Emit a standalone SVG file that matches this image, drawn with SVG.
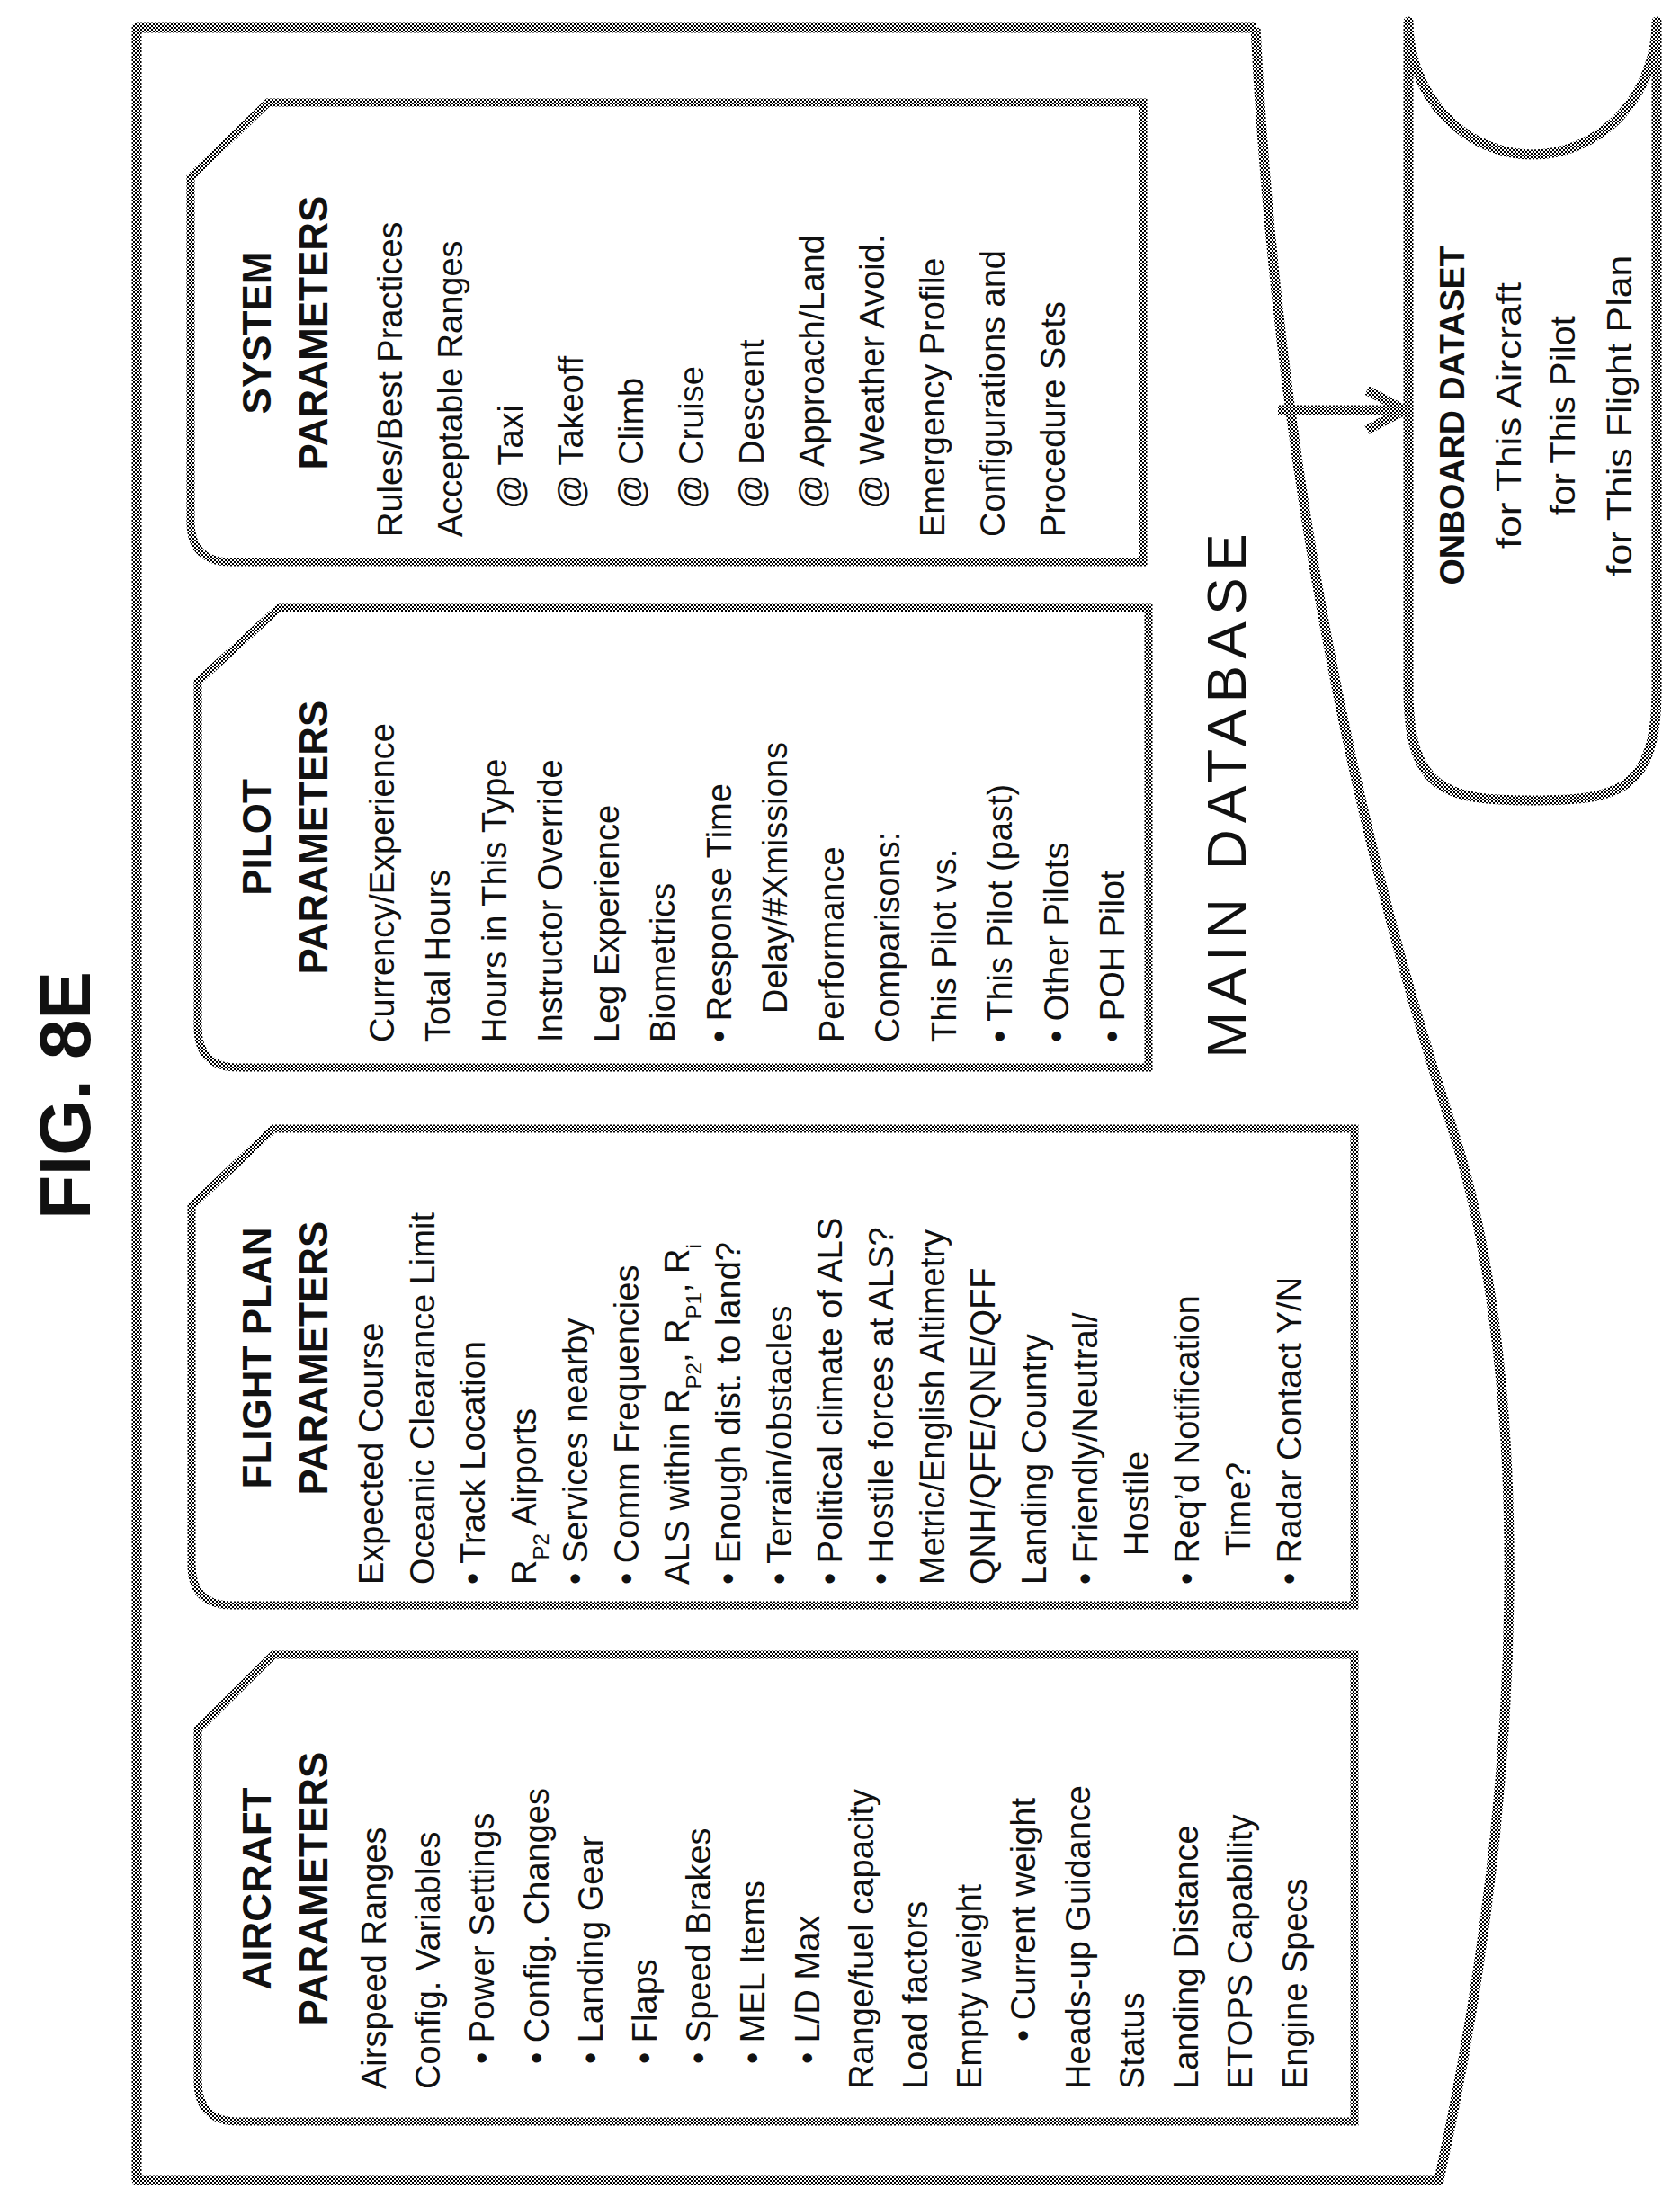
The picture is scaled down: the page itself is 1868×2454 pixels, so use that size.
<svg xmlns="http://www.w3.org/2000/svg" width="1868" height="2454" viewBox="0 0 1868 2454">
<defs>
<pattern id="hp" width="4" height="4" patternUnits="userSpaceOnUse"><rect width="4" height="4" fill="#fff"/><rect width="2" height="2" fill="#000"/><rect x="2" y="2" width="2" height="2" fill="#000"/></pattern>
</defs>
<style>
.h{fill:none;stroke:url(#hp);stroke-width:11;stroke-linejoin:round}
.hb{fill:none;stroke:url(#hp);stroke-width:9}
text{font-family:"Liberation Sans",Arial,sans-serif;fill:#111}
.l{font-size:38px}
.t{font-size:44px;font-weight:bold;text-anchor:middle}
.o{font-size:38px;text-anchor:middle}
</style>
<rect width="1868" height="2454" fill="#fff"/>
<text x="100" y="1218" transform="rotate(-90 100 1218)" style="font-size:80px;font-weight:bold;text-anchor:middle">FIG. 8E</text>
<g id="main-database">
<path class="h" d="M1396 31 L152 31 L152 2424 L1600 2424 C1705 1950 1700 1500 1610 1240 C1500 900 1420 500 1396 31"/>
<text x="1385" y="885" transform="rotate(-90 1385 885)" textLength="583" lengthAdjust="spacing" style="font-size:62px;text-anchor:middle">MAIN DATABASE</text>
</g>
<g id="system">
<path class="hb" d="M298 114 L1271 114 L1271 625 L257 625 Q212 625 212 580 L212 197 Z"/>
<g class="t"><text x="301" y="370" transform="rotate(-90 301 370)">SYSTEM</text><text x="364" y="370" transform="rotate(-90 364 370)">PARAMETERS</text></g>
<g class="l">
<text x="447" y="597" transform="rotate(-90 447 597)">Rules/Best Practices</text>
<text x="514" y="597" transform="rotate(-90 514 597)">Acceptable Ranges</text>
<text x="581" y="566" transform="rotate(-90 581 566)">@ Taxi</text>
<text x="648" y="566" transform="rotate(-90 648 566)">@ Takeoff</text>
<text x="715" y="566" transform="rotate(-90 715 566)">@ Climb</text>
<text x="782" y="566" transform="rotate(-90 782 566)">@ Cruise</text>
<text x="849" y="566" transform="rotate(-90 849 566)">@ Descent</text>
<text x="916" y="566" transform="rotate(-90 916 566)">@ Approach/Land</text>
<text x="983" y="566" transform="rotate(-90 983 566)">@ Weather Avoid.</text>
<text x="1050" y="597" transform="rotate(-90 1050 597)">Emergency Profile</text>
<text x="1117" y="597" transform="rotate(-90 1117 597)">Configurations and</text>
<text x="1184" y="597" transform="rotate(-90 1184 597)">Procedure Sets</text>
</g>
</g>
<g id="pilot">
<path class="hb" d="M310 676 L1277 676 L1277 1187 L265 1187 Q220 1187 220 1142 L220 758 Z"/>
<g class="t"><text x="301" y="931" transform="rotate(-90 301 931)">PILOT</text><text x="364" y="931" transform="rotate(-90 364 931)">PARAMETERS</text></g>
<g class="l">
<text x="438" y="1159" transform="rotate(-90 438 1159)">Currency/Experience</text>
<text x="500" y="1159" transform="rotate(-90 500 1159)">Total Hours</text>
<text x="563" y="1159" transform="rotate(-90 563 1159)">Hours in This Type</text>
<text x="625" y="1159" transform="rotate(-90 625 1159)">Instructor Override</text>
<text x="688" y="1159" transform="rotate(-90 688 1159)">Leg Experience</text>
<text x="750" y="1159" transform="rotate(-90 750 1159)">Biometrics</text>
<text x="813" y="1159" transform="rotate(-90 813 1159)">• Response Time</text>
<text x="875" y="1127" transform="rotate(-90 875 1127)">Delay/#Xmissions</text>
<text x="938" y="1159" transform="rotate(-90 938 1159)">Performance</text>
<text x="1000" y="1159" transform="rotate(-90 1000 1159)">Comparisons:</text>
<text x="1063" y="1159" transform="rotate(-90 1063 1159)">This Pilot vs.</text>
<text x="1125" y="1159" transform="rotate(-90 1125 1159)">• This Pilot (past)</text>
<text x="1188" y="1159" transform="rotate(-90 1188 1159)">• Other Pilots</text>
<text x="1250" y="1159" transform="rotate(-90 1250 1159)">• POH Pilot</text>
</g>
</g>
<g id="flight-plan">
<path class="hb" d="M304 1255 L1506 1255 L1506 1785 L258 1785 Q213 1785 213 1740 L213 1341 Z"/>
<g class="t"><text x="301" y="1510" transform="rotate(-90 301 1510)">FLIGHT PLAN</text><text x="364" y="1510" transform="rotate(-90 364 1510)">PARAMETERS</text></g>
<g class="l">
<text x="426" y="1762" transform="rotate(-90 426 1762)">Expected Course</text>
<text x="483" y="1762" transform="rotate(-90 483 1762)">Oceanic Clearance Limit</text>
<text x="539" y="1762" transform="rotate(-90 539 1762)">• Track Location</text>
<text x="596" y="1762" transform="rotate(-90 596 1762)">R<tspan baseline-shift="sub" font-size="24">P2</tspan> Airports</text>
<text x="653" y="1762" transform="rotate(-90 653 1762)">• Services nearby</text>
<text x="710" y="1762" transform="rotate(-90 710 1762)">• Comm Frequencies</text>
<text x="766" y="1762" transform="rotate(-90 766 1762)">ALS within R<tspan baseline-shift="sub" font-size="24">P2</tspan>, R<tspan baseline-shift="sub" font-size="24">P1</tspan>, R<tspan baseline-shift="sub" font-size="24">i</tspan></text>
<text x="823" y="1762" transform="rotate(-90 823 1762)">• Enough dist. to land?</text>
<text x="880" y="1762" transform="rotate(-90 880 1762)">• Terrain/obstacles</text>
<text x="936" y="1762" transform="rotate(-90 936 1762)">• Political climate of ALS</text>
<text x="993" y="1762" transform="rotate(-90 993 1762)">• Hostile forces at ALS?</text>
<text x="1050" y="1762" transform="rotate(-90 1050 1762)">Metric/English Altimetry</text>
<text x="1106" y="1762" transform="rotate(-90 1106 1762)">QNH/QFE/QNE/QFF</text>
<text x="1163" y="1762" transform="rotate(-90 1163 1762)">Landing Country</text>
<text x="1220" y="1762" transform="rotate(-90 1220 1762)">• Friendly/Neutral/</text>
<text x="1277" y="1730" transform="rotate(-90 1277 1730)">Hostile</text>
<text x="1333" y="1762" transform="rotate(-90 1333 1762)">• Req’d Notification</text>
<text x="1390" y="1730" transform="rotate(-90 1390 1730)">Time?</text>
<text x="1447" y="1762" transform="rotate(-90 1447 1762)">• Radar Contact Y/N</text>
</g>
</g>
<g id="aircraft">
<path class="hb" d="M304 1840 L1506 1840 L1506 2359 L265 2359 Q220 2359 220 2314 L220 1923 Z"/>
<g class="t"><text x="301" y="2100" transform="rotate(-90 301 2100)">AIRCRAFT</text><text x="364" y="2100" transform="rotate(-90 364 2100)">PARAMETERS</text></g>
<g class="l">
<text x="429" y="2323" transform="rotate(-90 429 2323)">Airspeed Ranges</text>
<text x="489" y="2323" transform="rotate(-90 489 2323)">Config. Variables</text>
<text x="549" y="2295" transform="rotate(-90 549 2295)">• Power Settings</text>
<text x="610" y="2295" transform="rotate(-90 610 2295)">• Config. Changes</text>
<text x="670" y="2295" transform="rotate(-90 670 2295)">• Landing Gear</text>
<text x="730" y="2295" transform="rotate(-90 730 2295)">• Flaps</text>
<text x="790" y="2295" transform="rotate(-90 790 2295)">• Speed Brakes</text>
<text x="850" y="2295" transform="rotate(-90 850 2295)">• MEL Items</text>
<text x="911" y="2295" transform="rotate(-90 911 2295)">• L/D Max</text>
<text x="971" y="2323" transform="rotate(-90 971 2323)">Range/fuel capacity</text>
<text x="1031" y="2323" transform="rotate(-90 1031 2323)">Load factors</text>
<text x="1091" y="2323" transform="rotate(-90 1091 2323)">Empty weight</text>
<text x="1151" y="2270" transform="rotate(-90 1151 2270)">• Current weight</text>
<text x="1212" y="2323" transform="rotate(-90 1212 2323)">Heads-up Guidance</text>
<text x="1272" y="2323" transform="rotate(-90 1272 2323)">Status</text>
<text x="1332" y="2323" transform="rotate(-90 1332 2323)">Landing Distance</text>
<text x="1392" y="2323" transform="rotate(-90 1392 2323)">ETOPS Capability</text>
<text x="1453" y="2323" transform="rotate(-90 1453 2323)">Engine Specs</text>
</g>
</g>
<g id="onboard-dataset">
<path class="h" d="M1566 24 A138 148 0 0 0 1842 24 L1842 766 C1842 880 1800 890 1704 890 C1608 890 1566 880 1566 766 Z"/>
<text x="1628" y="462" transform="rotate(-90 1628 462)" class="o" textLength="377" lengthAdjust="spacingAndGlyphs" style="font-weight:bold">ONBOARD DATASET</text>
<text x="1691" y="462" transform="rotate(-90 1691 462)" class="o" textLength="296" lengthAdjust="spacingAndGlyphs">for This Aircraft</text>
<text x="1751" y="462" transform="rotate(-90 1751 462)" class="o" textLength="222" lengthAdjust="spacingAndGlyphs">for This Pilot</text>
<text x="1814" y="462" transform="rotate(-90 1814 462)" class="o" textLength="357" lengthAdjust="spacingAndGlyphs">for This Flight Plan</text>
</g>
<g id="connectors">
<path class="h" d="M1421 456 L1562 456 M1520 434 L1562 456 L1520 478"/>
</g>
</svg>
